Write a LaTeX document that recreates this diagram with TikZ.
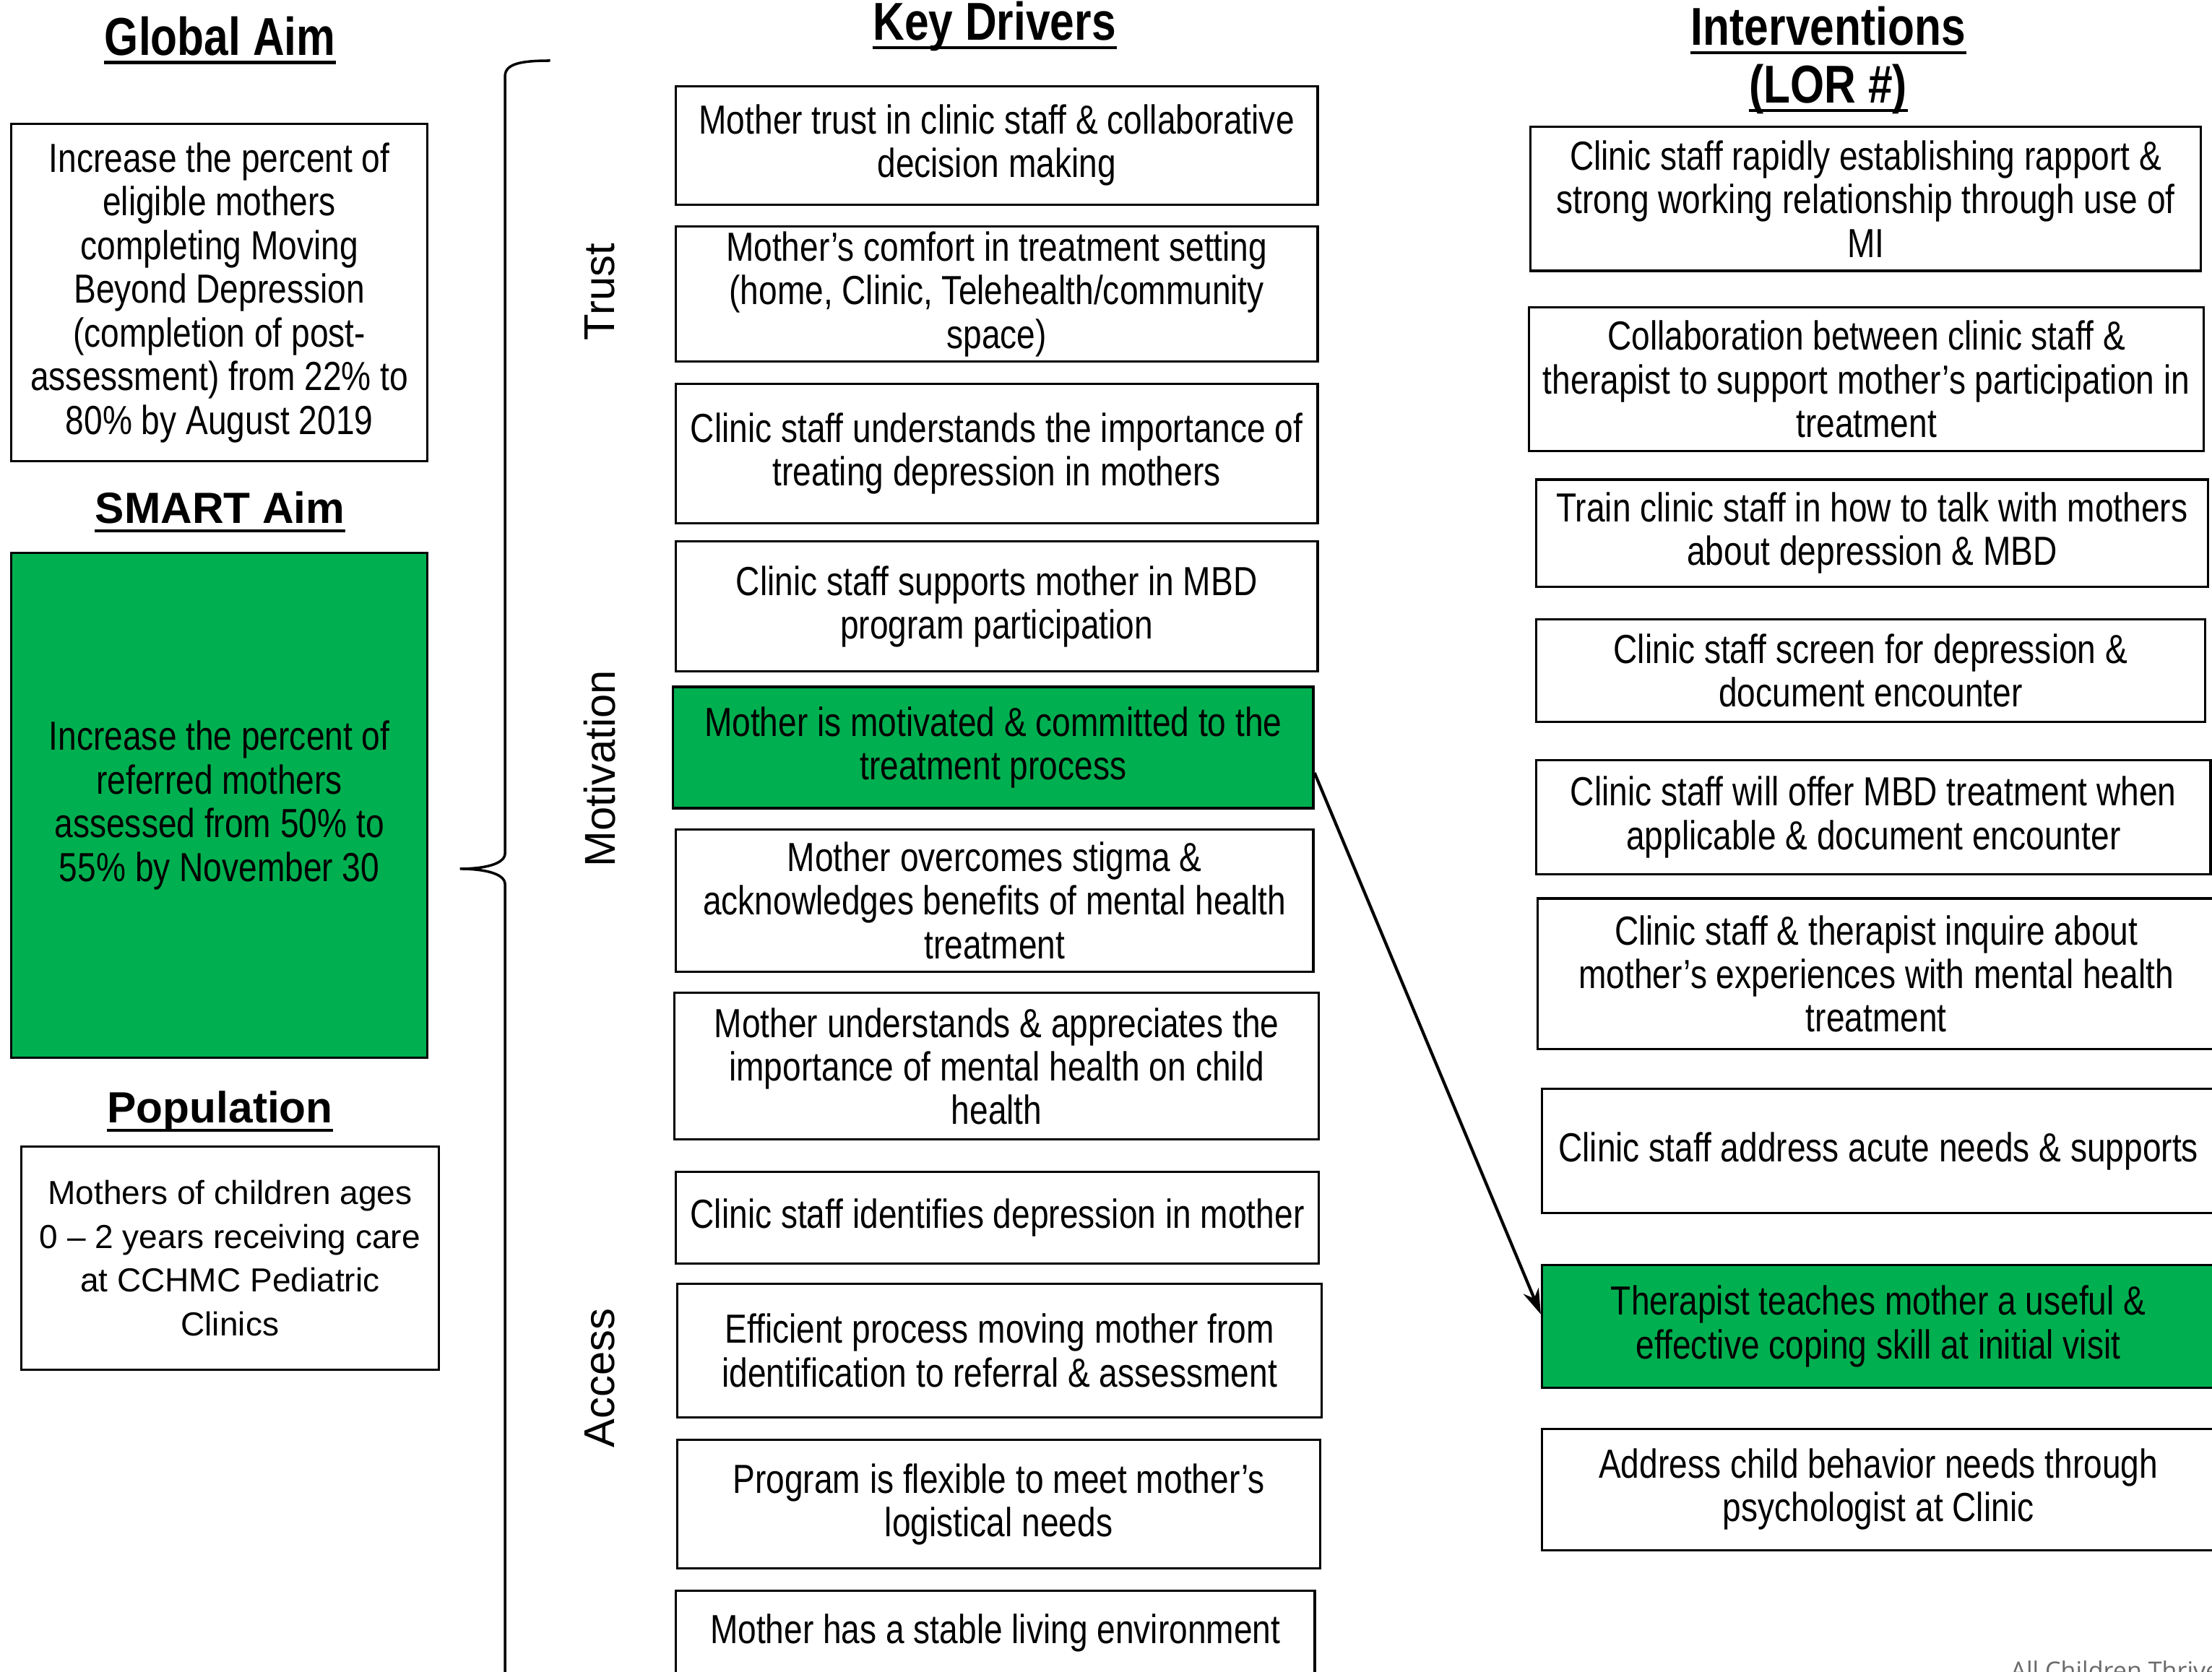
\documentclass[tikz,border=0pt]{standalone}
\usepackage{fontspec}
\setmainfont{Liberation Sans}
\newfontfamily\narrowfont[FakeStretch=0.82]{Liberation Sans}
\newfontfamily\footfont{Open Sans}
\usetikzlibrary{arrows.meta,positioning}
\definecolor{aimgreen}{RGB}{0,176,80}
\definecolor{footgray}{RGB}{105,105,105}
\newcommand{\pxu}{0.019528cm}

\tikzset{
  box/.style={draw=black, line width=0.9pt, align=center, inner sep=2pt,
    font=\narrowfont\fontsize{16}{17.2}\selectfont},
  greenbox/.style={box, fill=aimgreen},
  popbox/.style={box, font=\fontsize{13.1}{17.2}\selectfont},
  sz/.style 2 args={minimum width=#1*\pxu, minimum height=#2*\pxu},
  heading/.style={inner sep=0pt, anchor=base,
    font=\narrowfont\bfseries\fontsize{21}{22}\selectfont},
  subheading/.style={inner sep=0pt, anchor=base,
    font=\bfseries\fontsize{17.2}{20}\selectfont},
  sidelabel/.style={rotate=90, inner sep=0pt, font=\fontsize{17}{20}\selectfont},
  uline/.style={line width=1.3pt},
  brace/.style={line width=1pt},
  linkarrow/.style={line width=1.2pt, -{Stealth[length=10pt,width=6.5pt]}},
}

\begin{document}
\begin{tikzpicture}[x=\pxu, y=-\pxu]
\useasboundingbox (0,0) rectangle (1568,1185);

% Headings
\node[heading] (hga) at (156,39) {Global Aim};
\node[subheading] (hsa) at (156,371) {SMART Aim};
\node[subheading] (hpop) at (156,796) {Population};
\node[heading] (hkd) at (705,28.5) {Key Drivers};
\node[heading] (hint) at (1296,32) {Interventions};
\node[heading] (hlor) at (1296,73) {(LOR \#)};
\foreach \h in {hga,hsa,hpop,hkd,hint,hlor}
  \draw[uline] ([yshift=-3pt]\h.base west) -- ([yshift=-3pt]\h.base east);

% Aims and population
\node[box, sz={295}{239}] (gaim) at (155.5,207.5) {Increase the percent of\\eligible mothers\\completing Moving\\Beyond Depression\\(completion of post-\\assessment) from 22\% to\\80\% by August 2019};
\node[greenbox, sz={295}{358}] (saim) at (155.5,571) {Increase the percent of\\referred mothers\\assessed from 50\% to\\55\% by November 30};
\node[popbox, sz={296}{158}] (pop) at (163,892) {Mothers of children ages\\0 -- 2 years receiving care\\at CCHMC Pediatric\\Clinics};

% Brace
\draw[brace] (390,43) .. controls (370,43) and (358,45) .. (358,54) -- (358,605)
  .. controls (358,613) and (342,616) .. (326,616)
  .. controls (342,616) and (358,619) .. (358,627) -- (358,1200);

% Driver groups
\node[sidelabel] (ltrust) at (425,207) {Trust};
\node[sidelabel] (lmot) at (425,545) {Motivation};
\node[sidelabel] (lacc) at (425,977) {Access};

% Key drivers
\node[box, sz={455}{84}] (kd1) at (706.5,103) {Mother trust in clinic staff \& collaborative\\decision making};
\node[box, sz={455}{95}] (kd2) at (706.5,208.5) {Mother’s comfort in treatment setting\\(home, Clinic, Telehealth/community\\space)};
\node[box, sz={455}{99}] (kd3) at (706.5,321.5) {Clinic staff understands the importance of\\treating depression in mothers};
\node[box, sz={455}{92}] (kd4) at (706.5,430) {Clinic staff supports mother in MBD\\program participation};
\node[greenbox, sz={454}{86}] (kd5) at (704,530) {Mother is motivated \& committed to the\\treatment process};
\node[box, sz={452}{101}] (kd6) at (705,638.5) {Mother overcomes stigma \&\\acknowledges benefits of mental health\\treatment};
\node[box, sz={457}{104}] (kd7) at (706.5,756) {Mother understands \& appreciates the\\importance of mental health on child\\health};
\node[box, sz={456}{65}] (kd8) at (707,863.5) {Clinic staff identifies depression in mother};
\node[box, sz={457}{95}] (kd9) at (708.5,957.5) {Efficient process moving mother from\\identification to referral \& assessment};
\node[box, sz={456}{91}] (kd10) at (708,1066.5) {Program is flexible to meet mother’s\\logistical needs};
\node[box, sz={453}{60}] (kd11) at (705.5,1158) {Mother has a stable living environment};

% Interventions
\node[box, sz={475}{102}] (iv1) at (1322.5,141) {Clinic staff rapidly establishing rapport \&\\strong working relationship through use of\\MI};
\node[box, sz={478}{102}] (iv2) at (1323,269) {Collaboration between clinic staff \&\\therapist to support mother’s participation in\\treatment};
\node[box, sz={476}{76}] (iv3) at (1327,378) {Train clinic staff in how to talk with mothers\\about depression \& MBD};
\node[box, sz={474}{73}] (iv4) at (1326,475.5) {Clinic staff screen for depression \&\\document encounter};
\node[box, sz={478}{81}] (iv5) at (1328,579.5) {Clinic staff will offer MBD treatment when\\applicable \& document encounter};
\node[box, sz={480}{107}] (iv6) at (1330,690.5) {Clinic staff \& therapist inquire about\\mother’s experiences with mental health\\treatment};
\node[box, sz={477}{88}] (iv7) at (1331.5,816) {Clinic staff address acute needs \& supports};
\node[greenbox, sz={477}{87}] (iv8) at (1331.5,940.5) {Therapist teaches mother a useful \&\\effective coping skill at initial visit};
\node[box, sz={477}{86}] (iv9) at (1331.5,1056) {Address child behavior needs through\\psychologist at Clinic};

\draw[linkarrow] ([yshift=-0.35cm]kd5.east) -- ([yshift=0.17cm]iv8.west);

% Footer
\node[anchor=base west, inner sep=0pt, text=footgray, font=\footfont\fontsize{9.7}{11}\selectfont] (foot) at (1425,1191) {All Children Thrive};
\end{tikzpicture}
\end{document}
